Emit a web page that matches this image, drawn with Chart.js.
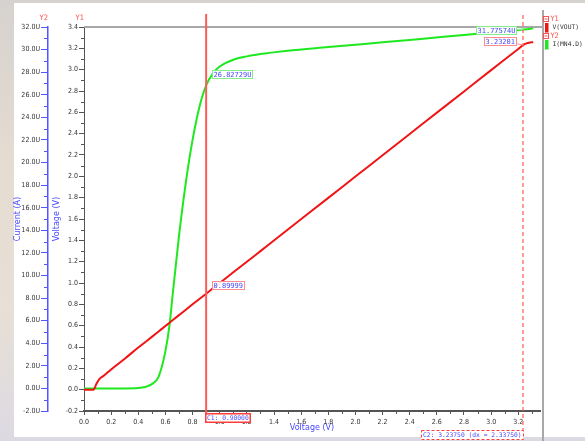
<!DOCTYPE html>
<html>
<head>
<meta charset="utf-8">
<script src="https://cdn.jsdelivr.net/npm/chart.js@4.4.1/dist/chart.umd.min.js"></script>
<style>
  html, body { margin: 0; padding: 0; }
  body {
    width: 585px; height: 441px; overflow: hidden; position: relative;
    background: linear-gradient(180deg, #d6d2cf 0%, #e4dbd1 35%, #e8e0d6 70%, #dcd9e2 100%);
  }
  #panel { position: absolute; left: 14px; top: 3px; width: 571px; height: 434px; background: #fff; }
  canvas { position: absolute; left: 0; top: 0; }
</style>
</head>
<body>
<div id="panel"></div>
<canvas id="c" width="585" height="441"></canvas>
<script>
// DC sweep: input voltage (V)
const sweepV = [0, 0.05, 0.07, 0.09, 0.11, 0.15, 0.2, 0.3, 0.4, 0.45,
                0.5, 0.55, 0.6, 0.63, 0.65, 0.7, 0.75, 0.8, 0.85, 0.9,
                0.95, 1.0, 1.1, 1.2, 1.3, 1.5, 1.8, 2.0, 2.2, 2.5,
                2.8, 3.0, 3.1, 3.2, 3.2375, 3.26, 3.28, 3.31];
// V(VOUT) in volts (Y1)
const vout = [0, 0, 0, 0.05, 0.095, 0.135, 0.19, 0.29, 0.395, 0.445,
              0.495, 0.546, 0.597, 0.627, 0.648, 0.699, 0.749, 0.8, 0.85, 0.89999,
              0.95, 1.0, 1.1, 1.199, 1.299, 1.499, 1.798, 1.998, 2.197, 2.497,
              2.796, 2.996, 3.095, 3.194, 3.23201, 3.246, 3.253, 3.257];
// I(MN4.D) in microamps (Y2)
const idrain = [0, 0, 0, 0, 0, 0, 0, 0, 0.03, 0.12,
                0.38, 1.05, 3.3, 5.6, 7.9, 13.5, 18.2, 22.0, 24.9, 26.82729,
                27.9, 28.5, 29.1, 29.4, 29.6, 29.9, 30.22, 30.43, 30.64, 30.97,
                31.3, 31.52, 31.63, 31.735, 31.77574, 31.8, 31.83, 31.88];

const xTickLabels = ['0.0', '0.2', '0.4', '0.6', '0.8', '1.0', '1.2', '1.4', '1.6',
                     '1.8', '2.0', '2.2', '2.4', '2.6', '2.8', '3.0', '3.2'];
const xMinorTicks = [0.1, 0.3, 0.5, 0.7, 0.9, 1.1, 1.3, 1.5, 1.7, 1.9, 2.1, 2.3, 2.5, 2.7, 2.9, 3.1, 3.3];
const y1TickLabels = ['-0.2', '0.0', '0.2', '0.4', '0.6', '0.8', '1.0', '1.2', '1.4', '1.6',
                      '1.8', '2.0', '2.2', '2.4', '2.6', '2.8', '3.0', '3.2', '3.4'];
const y1MinorTicks = [-0.1, 0.1, 0.3, 0.5, 0.7, 0.9, 1.1, 1.3, 1.5, 1.7, 1.9, 2.1, 2.3, 2.5, 2.7, 2.9, 3.1, 3.3];
const y2TickLabels = ['-2.0U', '0.0U', '2.0U', '4.0U', '6.0U', '8.0U', '10.0U', '12.0U', '14.0U',
                      '16.0U', '18.0U', '20.0U', '22.0U', '24.0U', '26.0U', '28.0U', '30.0U', '32.0U'];
const y2MinorTicks = [-1, 1, 3, 5, 7, 9, 11, 13, 15, 17, 19, 21, 23, 25, 27, 29, 31];

const cursorPositions = [0.9, 3.2375];
const seriesNames = ['V(VOUT)', 'I(MN4.D)'];
const axisGroups = ['Y1', 'Y2'];

const RED = '#f01414';
const GREEN = '#1ee81e';
const BLUE = '#5555ff';
const TEXT_BLUE = '#4848ff';
const CURSOR_RED = '#ff5a5a';
const TICK_FONT = "'Liberation Sans Narrow', 'DejaVu Sans Condensed', 'Liberation Sans', sans-serif";
const MONO = "'DejaVu Sans Mono', 'Liberation Mono', monospace";

const points = ys => sweepV.map((v, i) => ({ x: v, y: ys[i] }));
const fixedTicks = labels => scale => { scale.ticks = labels.map(l => ({ value: parseFloat(l) })); };

function tickLine(ctx, x1, y1, x2, y2) {
  ctx.beginPath(); ctx.moveTo(x1, y1); ctx.lineTo(x2, y2); ctx.stroke();
}

function markerBox(ctx, text, left, top, border) {
  ctx.font = '7px ' + MONO;
  const w = Math.round(ctx.measureText(text).width) + 3;
  ctx.fillStyle = 'rgba(255,255,255,0.92)';
  ctx.fillRect(left, top, w, 9);
  ctx.strokeStyle = border; ctx.lineWidth = 1;
  ctx.strokeRect(left + 0.5, top + 0.5, w - 1, 8);
  ctx.fillStyle = TEXT_BLUE; ctx.textBaseline = 'middle'; ctx.textAlign = 'left';
  ctx.fillText(text, left + 1.5, top + 5);
  return w;
}

const decor = {
  id: 'decor',
  beforeDatasetsDraw(chart) {
    const { ctx, chartArea: a, scales: { x, y1, y2 } } = chart;
    ctx.save();
    // frame: top edge and right divider
    ctx.strokeStyle = '#a8a8a8'; ctx.lineWidth = 2;
    tickLine(ctx, a.left, a.top, a.right + 3, a.top);
    tickLine(ctx, a.right + 3, 10, a.right + 3, 441);
    // minor ticks
    ctx.lineWidth = 1;
    ctx.strokeStyle = '#555';
    y1MinorTicks.forEach(v => { const y = Math.round(y1.getPixelForValue(v)) + 0.5; tickLine(ctx, a.left - 3, y, a.left, y); });
    xMinorTicks.forEach(v => { const px = Math.round(x.getPixelForValue(v)) + 0.5; tickLine(ctx, px, a.bottom, px, a.bottom + 3); });
    ctx.strokeStyle = BLUE;
    y2MinorTicks.forEach(v => { const y = Math.round(y2.getPixelForValue(v)) + 0.5; tickLine(ctx, y2.right - 4, y, y2.right, y); });
    ctx.restore();
  },
  afterDatasetsDraw(chart) {
    const { ctx, scales: { x, y1, y2 } } = chart;
    ctx.save();
    cursorPositions.forEach((cv, k) => {
      const px = x.getPixelForValue(cv);
      const i = sweepV.indexOf(cv);
      ctx.strokeStyle = CURSOR_RED;
      if (k === 0) {
        ctx.lineWidth = 2; ctx.setLineDash([]);
        tickLine(ctx, px, 14, px, 413);
      } else {
        ctx.lineWidth = 1.2; ctx.setLineDash([4, 3]);
        tickLine(ctx, Math.round(px), 15, Math.round(px), 430);
      }
      ctx.setLineDash([]);
      // value markers where the cursor meets each trace
      const gy = y2.getPixelForValue(idrain[i]);
      const ry = y1.getPixelForValue(vout[i]);
      const gText = idrain[i].toFixed(5) + 'U';
      const rText = vout[i].toFixed(5);
      if (k === 0) {
        markerBox(ctx, gText, Math.round(px) + 6, Math.round(gy) - 15, '#86ee86');
        markerBox(ctx, rText, Math.round(px) + 6, Math.round(ry) - 13, '#ff8c8c');
      } else {
        ctx.font = '7px ' + MONO;
        const gw = Math.round(ctx.measureText(gText).width) + 3;
        const rw = Math.round(ctx.measureText(rText).width) + 3;
        ctx.strokeStyle = '#86ee86'; ctx.lineWidth = 1;
        tickLine(ctx, px - 6, gy, px, gy);
        markerBox(ctx, gText, Math.round(px) - 6 - gw, Math.round(gy) - 4, '#86ee86');
        ctx.strokeStyle = '#ff8c8c';
        tickLine(ctx, px - 6, ry - 1, px, ry);
        markerBox(ctx, rText, Math.round(px) - 6 - rw, Math.round(ry) - 8, '#ff8c8c');
      }
      // cursor read-out
      ctx.font = '6.3px ' + MONO;
      const label = k === 0
        ? `C1: ${cv.toFixed(5)}`
        : `C2: ${cv.toFixed(5)} (dx = ${(cv - cursorPositions[0]).toFixed(5)})`;
      const w = Math.round(ctx.measureText(label).width) + 4;
      const left = k === 0 ? Math.round(px) - 1 : Math.round(px) - w + 1;
      const top = k === 0 ? 413 : 430;
      ctx.fillStyle = '#fff';
      ctx.fillRect(left, top, w, 10);
      ctx.strokeStyle = '#ff3c3c';
      if (k === 0) { ctx.lineWidth = 1.5; ctx.setLineDash([]); ctx.strokeRect(left + 0.75, top + 0.75, w - 1.5, 8.5); }
      else { ctx.lineWidth = 1; ctx.setLineDash([3, 2]); ctx.strokeRect(left + 0.5, top + 0.5, w - 1, 9); }
      ctx.setLineDash([]);
      ctx.fillStyle = TEXT_BLUE; ctx.textBaseline = 'middle'; ctx.textAlign = 'left';
      ctx.fillText(label, left + 2, top + 5.5);
    });
    ctx.restore();
  },
  afterDraw(chart) {
    const { ctx, scales: { y1, y2 } } = chart;
    ctx.save();
    // axis group headers
    ctx.font = '7.5px ' + TICK_FONT;
    ctx.fillStyle = '#ff5050'; ctx.textAlign = 'right'; ctx.textBaseline = 'middle';
    ctx.fillText('Y2', y2.right, 18.5);
    ctx.fillText('Y1', y1.right, 18.5);
    // trace legend
    const colors = [RED, GREEN];
    axisGroups.forEach((g, k) => {
      const top = 16 + k * 17;
      ctx.strokeStyle = '#ff5050'; ctx.lineWidth = 1;
      ctx.fillStyle = '#fff';
      ctx.fillRect(543.5, top + 0.5, 5, 5);
      ctx.strokeRect(543.5, top + 0.5, 5, 5);
      tickLine(ctx, 544.5, top + 3, 547.5, top + 3);
      ctx.font = '7.5px ' + TICK_FONT;
      ctx.fillStyle = '#ff5050'; ctx.textAlign = 'left'; ctx.textBaseline = 'middle';
      ctx.fillText(g, 550.5, top + 3);
      ctx.fillStyle = colors[k];
      ctx.fillRect(545, top + 7, 3.5, 9.5);
      ctx.font = '6.3px ' + MONO;
      ctx.fillStyle = '#333';
      ctx.fillText(seriesNames[k], 552.5, top + 11);
    });
    ctx.restore();
  }
};

new Chart(document.getElementById('c'), {
  type: 'line',
  data: {
    datasets: [
      { label: seriesNames[0], data: points(vout), yAxisID: 'y1', borderColor: RED, borderWidth: 2,
        pointRadius: 0, cubicInterpolationMode: 'monotone', fill: false },
      { label: seriesNames[1], data: points(idrain), yAxisID: 'y2', borderColor: GREEN, borderWidth: 2,
        pointRadius: 0, cubicInterpolationMode: 'monotone', fill: false }
    ]
  },
  options: {
    responsive: false,
    animation: false,
    devicePixelRatio: 1,
    layout: { padding: { left: 13, right: 45, top: 27, bottom: 5 } },
    plugins: { legend: { display: false }, tooltip: { enabled: false } },
    scales: {
      x: {
        type: 'linear', position: 'bottom', min: 0, max: 3.36,
        afterBuildTicks: fixedTicks(xTickLabels),
        afterFit: s => { s.height = 25; },
        grid: { drawOnChartArea: false, drawTicks: true, tickLength: 4, color: '#555' },
        border: { display: true, color: '#555', width: 2 },
        ticks: { callback: (v, i) => xTickLabels[i], autoSkip: false, maxRotation: 0, padding: 3,
                 color: '#333', font: { family: TICK_FONT, size: 7 } },
        title: { display: true, text: 'Voltage (V)', color: TEXT_BLUE,
                 font: { family: 'DejaVu Sans', size: 8 }, padding: { top: 0, bottom: 3 } }
      },
      y1: {
        type: 'linear', position: 'left', weight: 0, min: -0.2, max: 3.4,
        afterBuildTicks: fixedTicks(y1TickLabels),
        afterFit: s => { s.width = 36; },
        grid: { drawOnChartArea: false, drawTicks: true, tickLength: 5, color: '#555' },
        border: { display: true, color: '#555', width: 1 },
        ticks: { callback: (v, i) => y1TickLabels[i], autoSkip: false, padding: 1,
                 color: '#333', font: { family: TICK_FONT, size: 7 } },
        title: { display: true, text: 'Voltage (V)', color: TEXT_BLUE,
                 font: { family: 'DejaVu Sans', size: 8 }, padding: { top: 4, bottom: 0 } }
      },
      y2: {
        type: 'linear', position: 'left', weight: 10, min: -2, max: 32,
        afterBuildTicks: fixedTicks(y2TickLabels),
        afterFit: s => { s.width = 35; },
        grid: { drawOnChartArea: false, drawTicks: true, tickLength: 7, color: BLUE },
        border: { display: true, color: BLUE, width: 1.5 },
        ticks: { callback: (v, i) => y2TickLabels[i], autoSkip: false, padding: 1,
                 color: '#333', font: { family: TICK_FONT, size: 7 } },
        title: { display: true, text: 'Current (A)', color: TEXT_BLUE,
                 font: { family: 'DejaVu Sans', size: 8 }, padding: { top: 0, bottom: 0 } }
      }
    }
  },
  plugins: [decor]
});
</script>
</body>
</html>
